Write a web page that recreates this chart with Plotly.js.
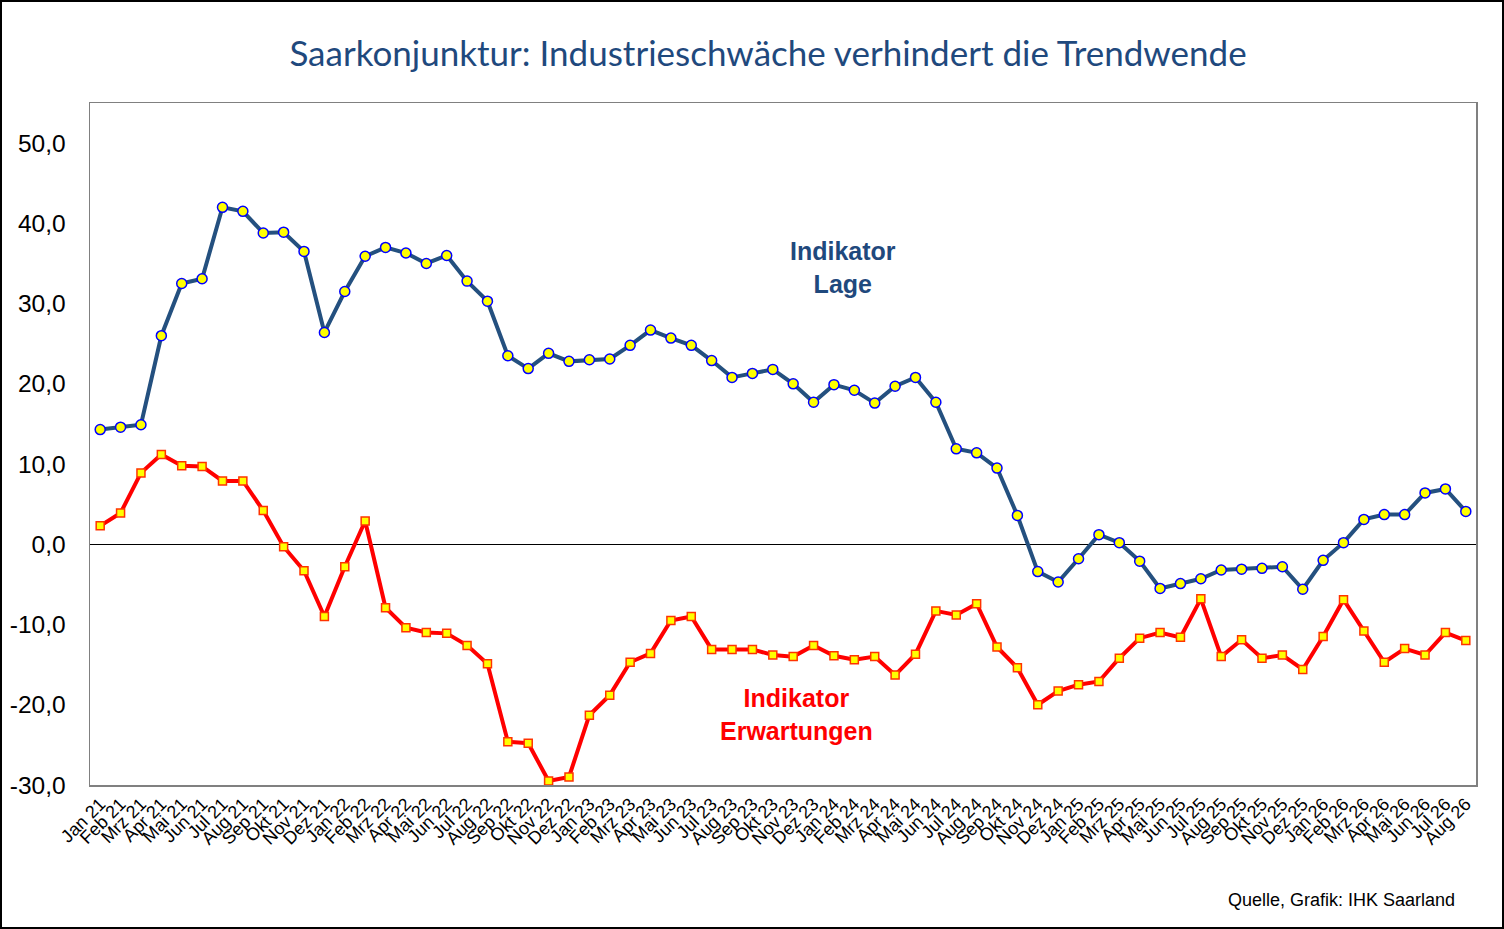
<!DOCTYPE html>
<html>
<head>
<meta charset="utf-8">
<script src="https://cdn.plot.ly/plotly-3.0.1.min.js"></script>
<style>
  html, body {margin:0; padding:0; background:#fff;}
  #graph {width:1504px; height:929px; box-sizing:border-box; border:2px solid #000;}
</style>
</head>
<body>
<div id="graph"></div>
<script>
// Monatsbeschriftungen
const months = ["Jan","Feb","Mrz","Apr","Mai","Jun","Jul","Aug","Sep","Okt","Nov","Dez"];
const labels = [];
["21","22","23","24","25"].forEach(y => months.forEach(m => labels.push(m + " " + y)));
months.slice(0, 8).forEach(m => labels.push(m + " 26"));

// Indikator Lage
const lage = [14.3, 14.6, 14.9, 26.0, 32.5, 33.1, 42.0, 41.5, 38.8, 38.9, 36.5, 26.4,
  31.5, 35.9, 37.0, 36.3, 35.0, 36.0, 32.8, 30.3, 23.5, 21.9, 23.8, 22.8,
  23.0, 23.1, 24.8, 26.7, 25.7, 24.8, 22.9, 20.8, 21.3, 21.8, 20.0, 17.7,
  19.9, 19.2, 17.6, 19.7, 20.8, 17.7, 11.9, 11.4, 9.5, 3.6, -3.4, -4.7,
  -1.8, 1.2, 0.2, -2.1, -5.5, -4.9, -4.3, -3.2, -3.1, -3.0, -2.8, -5.6,
  -2.0, 0.2, 3.1, 3.7, 3.7, 6.4, 6.9, 4.1];

// Indikator Erwartungen
const erwartungen = [2.3, 3.9, 8.9, 11.2, 9.8, 9.7, 7.9, 7.9, 4.2, -0.3, -3.3, -9.0,
  -2.8, 2.9, -7.9, -10.4, -11.0, -11.1, -12.6, -14.9, -24.6, -24.8, -29.5, -29.0,
  -21.3, -18.8, -14.7, -13.6, -9.5, -9.0, -13.1, -13.1, -13.1, -13.8, -14.0, -12.6,
  -13.9, -14.4, -14.0, -16.3, -13.7, -8.3, -8.8, -7.4, -12.8, -15.4, -20.0, -18.3,
  -17.5, -17.1, -14.2, -11.7, -11.0, -11.6, -6.8, -14.0, -11.9, -14.2, -13.8, -15.6,
  -11.5, -6.9, -10.8, -14.7, -13.0, -13.8, -11.0, -12.0];

const yTicks = [-30, -20, -10, 0, 10, 20, 30, 40, 50];
// German format with plain hyphen, like the original
const yTickText = yTicks.map(v => v.toFixed(1).replace(".", ","));

const traces = [
  {x: labels, y: lage, name: "Indikator Lage", mode: "lines+markers", cliponaxis: false,
   line: {color: "#24507f", width: 4},
   marker: {symbol: "circle", size: 10, color: "#ffff00", line: {color: "#0000ff", width: 1.5}}},
  {x: labels, y: erwartungen, name: "Indikator Erwartungen", mode: "lines+markers", cliponaxis: false,
   line: {color: "#ff0000", width: 4},
   marker: {symbol: "square", size: 8, color: "#ffff00", line: {color: "#ff3300", width: 1.5}}}];

const layout = {
  width: 1500, height: 925, showlegend: false, separators: ",.",
  paper_bgcolor: "#fff", plot_bgcolor: "#fff",
  margin: {l: 87.5, r: 25.5, t: 100.5, b: 141.5},
  font: {family: "Liberation Sans, Arial, sans-serif", color: "#000"},
  title: {text: "Saarkonjunktur: Industrieschwäche verhindert die Trendwende",
    font: {family: "Lato, sans-serif", size: 35, color: "#1f497d"},
    xref: "container", x: 766 / 1500, xanchor: "center", yref: "container", y: 1 - 52 / 925, yanchor: "middle"},
  xaxis: {type: "category", range: [-0.5, labels.length - 0.5], tickmode: "array", tickvals: labels, ticktext: labels,
    tickangle: -45, tickfont: {size: 18}, showgrid: false, zeroline: false, ticks: "",
    showline: true, linecolor: "#808080", linewidth: 1.5, mirror: true},
  yaxis: {range: [-30, 55], tickmode: "array", tickvals: yTicks, ticktext: yTickText, tickfont: {size: 24.5},
    showgrid: false, ticks: "", ticklabelstandoff: 18,
    zeroline: true, zerolinecolor: "#000", zerolinewidth: 1,
    showline: true, linecolor: "#808080", linewidth: 1.5, mirror: true},
  annotations: [
    {text: "<b>Indikator<br>Lage</b>", xref: "paper", yref: "paper", x: 0.543, y: 0.759, xanchor: "center", yanchor: "middle",
     showarrow: false, font: {size: 25, color: "#1f497d"}, align: "center"},
    {text: "<b>Indikator<br>Erwartungen</b>", xref: "paper", yref: "paper", x: 0.510, y: 0.103, xanchor: "center", yanchor: "middle",
     showarrow: false, font: {size: 25, color: "#ff0000"}, align: "center"},
    {text: "Quelle, Grafik: IHK Saarland", xref: "paper", yref: "paper", x: 0.986, y: -0.169, xanchor: "right", yanchor: "middle",
     showarrow: false, font: {size: 18}}]};

Plotly.newPlot("graph", traces, layout, {displayModeBar: false, staticPlot: true});
</script>
</body>
</html>
